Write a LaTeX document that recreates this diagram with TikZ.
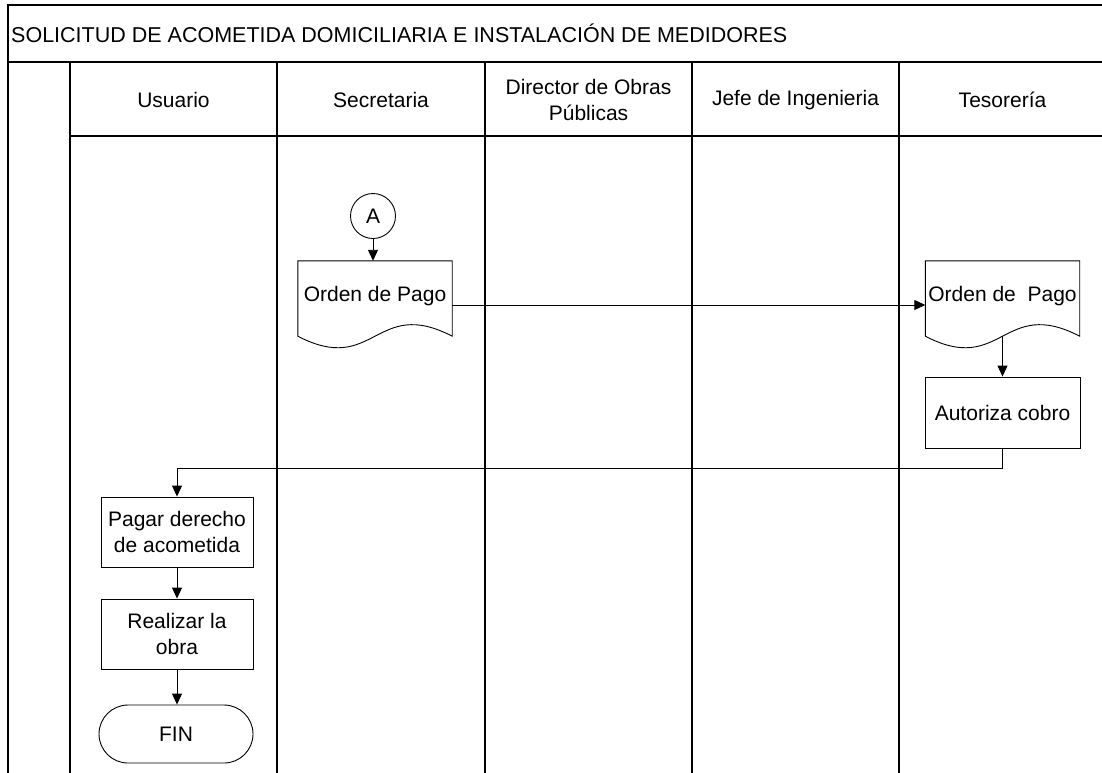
\documentclass[tikz,border=0pt]{standalone}
\usepackage{fontspec}
\setmainfont{Liberation Sans}
\usetikzlibrary{arrows.meta}
\newcommand\myfs{\fontsize{21}{26}\selectfont}
\begin{document}
\begin{tikzpicture}[x=1pt,y=-1pt,
  lane/.style={line width=1.2pt},
  flow/.style={line width=0.9pt},
  arr/.style={line width=0.9pt,-{Triangle[length=11pt,width=10pt]}},
  box/.style={draw,line width=0.9pt,minimum width=152pt,minimum height=70pt,inner sep=0pt,align=center,font=\myfs},
  docbox/.style={minimum width=154pt,minimum height=70pt,inner sep=0pt,align=center,font=\myfs},
  conn/.style={draw,circle,line width=0.9pt,minimum size=45pt,inner sep=0pt,font=\myfs},
  term/.style={draw,line width=0.9pt,rounded corners=29pt,minimum width=154pt,minimum height=58pt,inner sep=0pt,font=\myfs},
  head/.style={align=center,font=\myfs,inner sep=0pt}]
\useasboundingbox (0,0) rectangle (1102,772);
% frame and lanes
\draw[lane] (1110,5) -- (8,5) -- (8,780);
\draw[lane] (8,62) -- (1110,62);
\draw[lane] (70,136) -- (1110,136);
\foreach \x in {70,277,485,692,899} \draw[lane] (\x,62) -- (\x,780);
\node[anchor=west,font=\fontsize{21.5}{26}\selectfont,inner sep=0pt] (title) at (11,33) {SOLICITUD DE ACOMETIDA DOMICILIARIA E INSTALACIÓN DE MEDIDORES};
\node[head] (h1) at (173.5,100) {Usuario};
\node[head] (h2) at (381,100) {Secretaria};
\node[head] (h3) at (588.5,100) {Director de Obras\\Públicas};
\node[head] (h4) at (795.5,100) {Jefe de Ingenieria};
\node[head] (h5) at (1002.5,100) {Tesorería};
% nodes
\node[conn] (A) at (373,216) {A};
\node[docbox] (doc1) at (375,296) {Orden de Pago};
\node[docbox] (doc2) at (1002.5,296) {Orden de\ \ Pago};
\foreach \d in {doc1,doc2}
  \draw[flow] (\d.north west) -- ([yshift=-5pt]\d.south west)
    .. controls +(77,40) and +(-77,-40) .. ([yshift=-5pt]\d.south east)
    -- (\d.north east) -- cycle;
\coordinate (doc2b) at ([yshift=-5pt]doc2.south);
\node[box,minimum width=155pt,minimum height=71pt] (aut) at (1002.5,412.5) {Autoriza cobro};
\node[box] (pagar) at (177,532) {Pagar derecho\\de acometida};
\node[box] (real) at (177,634) {Realizar la\\obra};
\node[term] (fin) at (176,734) {FIN};
% connectors
\draw[arr] (A) -- (doc1.north -| A);
\draw[arr] ([yshift=-9pt]doc1.east) -- ([yshift=-9pt]doc2.west);
\draw[arr] (doc2b) -- (aut.north);
\draw[arr] (aut.south) -- ++(0,20) -| (pagar.north);
\draw[arr] (pagar) -- (real);
\draw[arr] (real.south) -- (fin.north -| real.south);
\end{tikzpicture}
\end{document}
